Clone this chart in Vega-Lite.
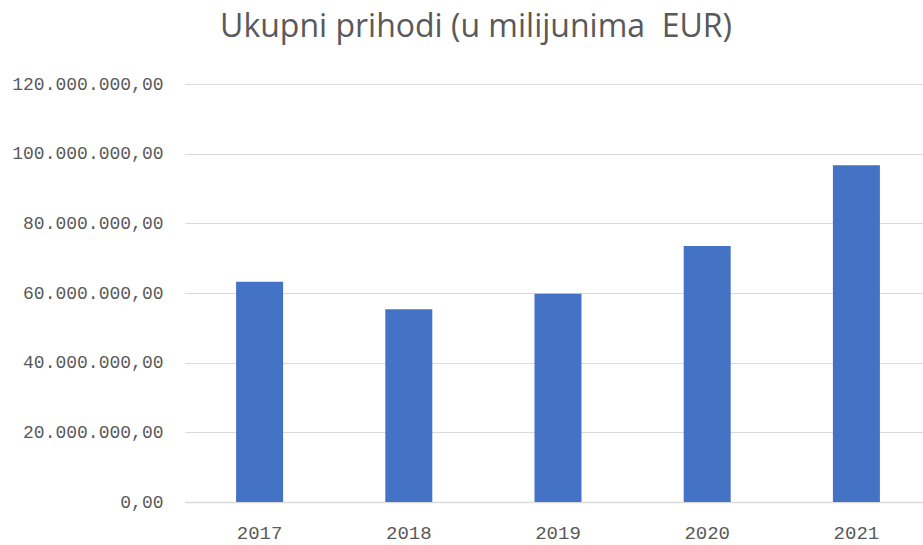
{
  "$schema": "https://vega.github.io/schema/vega-lite/v6.json",
  "autosize": "none",
  "width": 746,
  "height": 418,
  "padding": {"left": 185, "top": 84, "right": 0, "bottom": 43},
  "background": "white",
  "title": {
    "text": "Ukupni prihodi (u milijunima\u00a0 EUR)",
    "font": "Open Sans",
    "fontSize": 32,
    "fontWeight": "normal",
    "color": "#595959",
    "anchor": "middle",
    "frame": "group",
    "dx": -82,
    "baseline": "alphabetic",
    "offset": 6
  },
  "data": {
    "values": [
      {"year": "2017", "value": 63200000},
      {"year": "2018", "value": 55300000},
      {"year": "2019", "value": 59800000},
      {"year": "2020", "value": 73500000},
      {"year": "2021", "value": 96700000}
    ]
  },
  "mark": {"type": "bar", "color": "#4472C4"},
  "encoding": {
    "x": {
      "field": "year",
      "type": "ordinal",
      "scale": {"paddingInner": 0.685, "paddingOuter": 0.3425},
      "axis": {
        "title": null,
        "labelAngle": 0,
        "labelFont": "Liberation Mono",
        "labelFontSize": 19,
        "labelColor": "#595959",
        "labelPadding": 21,
        "ticks": false,
        "domainColor": "#d9d9d9",
        "domainWidth": 1.5
      }
    },
    "y": {
      "field": "value",
      "type": "quantitative",
      "scale": {"domain": [0, 120000000], "nice": false},
      "axis": {
        "title": null,
        "values": [0, 20000000, 40000000, 60000000, 80000000, 100000000, 120000000],
        "format": ",.2f",
        "labelFont": "Liberation Mono",
        "labelFontSize": 18,
        "labelColor": "#595959",
        "labelPadding": 22,
        "ticks": false,
        "domain": false,
        "gridColor": "#d9d9d9",
        "gridWidth": 1
      }
    }
  },
  "config": {
    "view": {"stroke": null},
    "locale": {
      "number": {
        "decimal": ",",
        "thousands": ".",
        "grouping": [3],
        "currency": ["", " €"]
      }
    }
  }
}
